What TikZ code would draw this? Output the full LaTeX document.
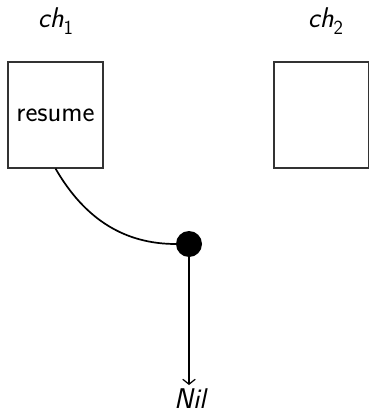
\documentclass[tikz,border=0pt]{standalone}
\usetikzlibrary{arrows.meta}
\begin{document}
\begin{tikzpicture}[x=1pt,y=1pt,
  every node/.style={font=\sffamily\fontsize{28.5}{33}\selectfont},
  chbox/.style={draw=black!80, line width=1.1pt, minimum width=95pt, minimum height=106pt, inner sep=0pt},
  chlabel/.style={font=\sffamily\itshape\fontsize{28.5}{33}\selectfont},
  dotnode/.style={circle, fill=black, minimum size=26pt, inner sep=0pt},
  link/.style={line width=1.7pt},
  flow/.style={line width=1.7pt, -{Straight Barb[length=5pt,width=12.5pt,line width=1.2pt]}}]
\useasboundingbox (0,0) rectangle (368,-414);
\node[chlabel] (l1) at (55.5,-21) {ch\raisebox{-0.25em}{\upshape\fontsize{20}{22}\selectfont 1}};
\node[chlabel] (l2) at (325.5,-21) {ch\raisebox{-0.25em}{\upshape\fontsize{20}{22}\selectfont 2}};
\node[chbox] (b1) at (55.5,-115) {resume};
\node[chbox] (b2) at (321.5,-115) {};
\node[dotnode] (dot) at (189,-244) {};
\node[chlabel, anchor=base, inner sep=0pt] (nil) at (190,-408) {Nil};
\draw[link] (b1.south) .. controls +(-60:60) and +(180:50) .. (dot.west);
\draw[flow] (dot.south) -- (dot.south |- 0,-385);
\end{tikzpicture}
\end{document}
